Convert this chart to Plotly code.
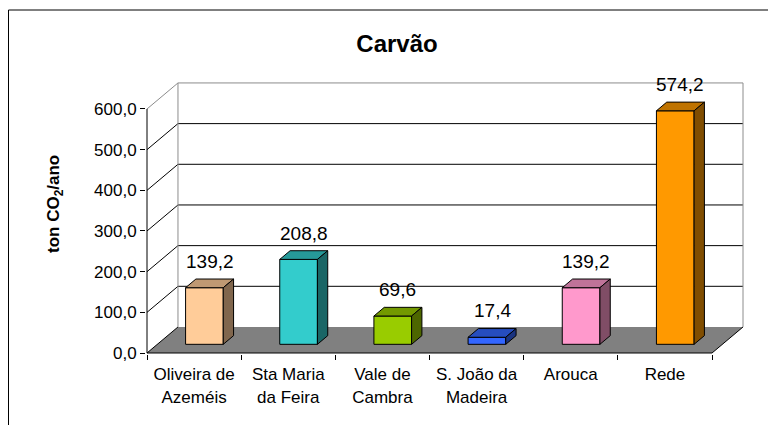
import plotly.graph_objects as go

# ---------------- data ----------------
categories = ["Oliveira de<br>Azeméis", "Sta Maria<br>da Feira", "Vale de<br>Cambra",
              "S. João da<br>Madeira", "Arouca", "Rede"]
values = [139.2, 208.8, 69.6, 17.4, 139.2, 574.2]
y_ticks = [0, 100, 200, 300, 400, 500, 600]
title_text = "Carvão"
y_title_text = "ton CO<sub>2</sub>/ano"

# ---------------- styles ----------------
front_colors = ["#FFCC99", "#33CCCC", "#99CC00", "#3366FF", "#FF99CC", "#FF9900"]
top_colors = ["#BF9973", "#269999", "#739900", "#264DBF", "#BF7399", "#BF7300"]
side_colors = ["#80664D", "#1A6666", "#4D6600", "#1A3380", "#804D66", "#804D00"]
FONT = "Arial, Liberation Sans, sans-serif"

# pseudo-3D projection (in axis units)
DX = 0.329   # depth offset along x (category units)
DY = 64.0    # depth offset along y (value units)
F0, F1 = 1 / 3, 2 / 3   # bar front/back position within depth
BAR_W = 0.40

# page body has an 8px margin: the figure starts at (8, 8) in the window
OFF = 8
W, H = 776 - OFF, 425 - OFF
ML, MR, MT, MB = 146 - OFF, 32, 81 - OFF, 71
PW, PH = W - ML - MR, H - MT - MB
X_PER_PX = 1 / 94.17
Y_PER_PX = 1 / 0.4067
x_min = -0.5 - 1 * X_PER_PX
x_max = x_min + PW * X_PER_PX
y_min = -1 * Y_PER_PX
y_max = y_min + PH * Y_PER_PX


def px_paper(px, py):
    """window pixel -> paper coords"""
    return (px - OFF - ML) / PW, (H - MB - (py - OFF)) / PH


fig = go.Figure()
n = len(values)
x_left = -0.5
x_right = n - 0.5
shapes = []

# floor
shapes.append(dict(type="path", xref="x", yref="y", layer="below",
                   path=f"M {x_left},0 L {x_right},0 L {x_right+DX},{DY} L {x_left+DX},{DY} Z",
                   fillcolor="#808080", line=dict(width=0)))
# back wall gridlines and side diagonals
for v in y_ticks:
    col = "#8C8C8C" if v == y_ticks[-1] else "#000000"
    if v > 0:
        shapes.append(dict(type="line", xref="x", yref="y", layer="below",
                           x0=x_left + DX, y0=v + DY, x1=x_right + DX, y1=v + DY,
                           line=dict(color=col, width=1)))
    shapes.append(dict(type="line", xref="x", yref="y", layer="below",
                       x0=x_left, y0=v, x1=x_left + DX, y1=v + DY,
                       line=dict(color=col, width=1)))
# wall vertical edges
for xx in (x_left + DX, x_right + DX):
    shapes.append(dict(type="line", xref="x", yref="y", layer="below",
                       x0=xx, y0=DY, x1=xx, y1=y_ticks[-1] + DY,
                       line=dict(color="#8C8C8C", width=1)))
# front axis lines
shapes.append(dict(type="line", xref="x", yref="y", x0=x_left, y0=0, x1=x_left, y1=y_ticks[-1],
                   line=dict(color="#000000", width=1)))
shapes.append(dict(type="line", xref="x", yref="y", x0=x_left, y0=0, x1=x_right, y1=0,
                   line=dict(color="#000000", width=1)))
shapes.append(dict(type="line", xref="x", yref="y", x0=x_right, y0=0, x1=x_right + DX, y1=DY,
                   line=dict(color="#000000", width=1)))

# outer chart frame (left edge as close to the page edge as the figure allows)
fx0, fy0 = px_paper(8.5, 10)
fx1, fy1 = px_paper(800, 450)
shapes.append(dict(type="rect", xref="paper", yref="paper", x0=fx0, y0=fy1, x1=fx1, y1=fy0,
                   line=dict(color="#000000", width=1), fillcolor="rgba(0,0,0,0)"))

# bars as 3 faces each
annotations = []
for i, v in enumerate(values):
    bx = i + F0 * DX
    by = F0 * DY
    xl, xr = bx - BAR_W / 2, bx + BAR_W / 2
    ddx, ddy = (F1 - F0) * DX, (F1 - F0) * DY
    faces = [
        ([xl, xr, xr, xl, xl], [by, by, by + v, by + v, by], front_colors[i]),
        ([xl, xr, xr + ddx, xl + ddx, xl], [by + v, by + v, by + v + ddy, by + v + ddy, by + v], top_colors[i]),
        ([xr, xr + ddx, xr + ddx, xr, xr], [by, by + ddy, by + v + ddy, by + v, by], side_colors[i]),
    ]
    for fxs, fys, c in faces:
        fig.add_trace(go.Scatter(x=fxs, y=fys, mode="lines", fill="toself", fillcolor=c,
                                 line=dict(color="#000000", width=1), hoverinfo="skip",
                                 showlegend=False))
    annotations.append(dict(x=i + (F0 + F1) / 2 * DX, y=v + (F0 + F1) / 2 * DY,
                            xref="x", yref="y", text=f"{v:.1f}".replace(".", ","),
                            showarrow=False, yshift=22, yanchor="middle",
                            font=dict(family=FONT, size=19, color="#000000")))

# y-axis title
tx, ty = px_paper(55, 204)
annotations.append(dict(x=tx, y=ty, xref="paper", yref="paper", text=f"<b>{y_title_text}</b>",
                        textangle=-90, showarrow=False, xanchor="center", yanchor="middle",
                        font=dict(family=FONT, size=17, color="#000000")))

fig.update_layout(
    width=W, height=H,
    margin=dict(l=ML, r=MR, t=MT, b=MB, autoexpand=False),
    paper_bgcolor="white", plot_bgcolor="white",
    separators=",.",
    title=dict(text=f"<b>{title_text}</b>", x=(397 - OFF) / W, xref="container", xanchor="center",
               y=1 - (44 - OFF) / H, yref="container", yanchor="middle",
               font=dict(family=FONT, size=24, color="#000000")),
    xaxis=dict(range=[x_min, x_max], tickmode="array", tickvals=list(range(n)),
               ticktext=categories, ticks="outside", ticklen=5, tickcolor="rgba(0,0,0,0)",
               showgrid=False, zeroline=False, showline=False, fixedrange=True,
               tickfont=dict(family=FONT, size=17, color="#000000"),
               minor=dict(tickmode="array", tickvals=[k - 0.5 for k in range(n + 1)],
                          ticks="outside", ticklen=5, tickcolor="#000000", tickwidth=1,
                          showgrid=False)),
    yaxis=dict(range=[y_min, y_max], tickmode="array", tickvals=y_ticks, tickformat=".1f",
               ticks="outside", ticklen=5, tickcolor="#000000", tickwidth=1,
               showgrid=False, zeroline=False, showline=False, fixedrange=True,
               tickfont=dict(family=FONT, size=17, color="#000000")),
    shapes=shapes, annotations=annotations, showlegend=False,
)

fig.write_html("out.html")
